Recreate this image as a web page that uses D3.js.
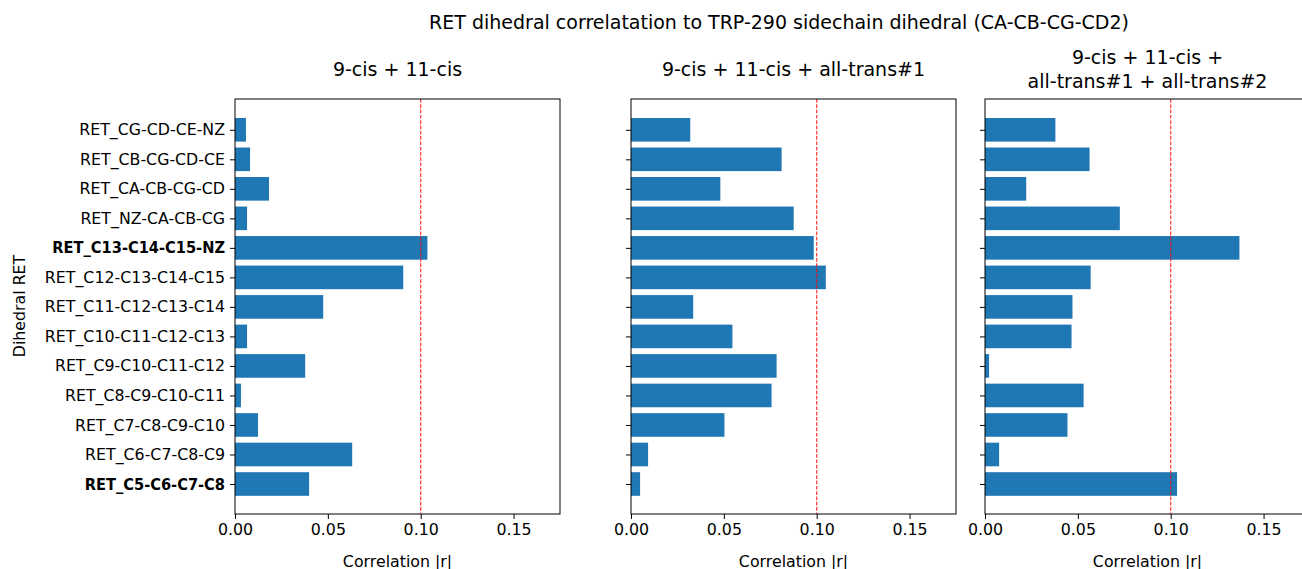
<!DOCTYPE html>
<html><head><meta charset="utf-8">
<script src="https://cdn.jsdelivr.net/npm/d3@7"></script>
<style>body{margin:0;background:#fff}svg{display:block;font-family:"DejaVu Sans",sans-serif}</style>
</head><body><svg id="c" width="1302" height="569"></svg>
<script>
const categories = ["RET_C5-C6-C7-C8","RET_C6-C7-C8-C9","RET_C7-C8-C9-C10","RET_C8-C9-C10-C11","RET_C9-C10-C11-C12","RET_C10-C11-C12-C13","RET_C11-C12-C13-C14","RET_C12-C13-C14-C15","RET_C13-C14-C15-NZ","RET_NZ-CA-CB-CG","RET_CA-CB-CG-CD","RET_CB-CG-CD-CE","RET_CG-CD-CE-NZ"];
const boldLabels = ["RET_C13-C14-C15-NZ","RET_C5-C6-C7-C8"];
const valsA = [0.0399,0.0631,0.0124,0.0032,0.0378,0.0065,0.0475,0.0906,0.1036,0.0065,0.0183,0.0081,0.0059];
const valsB = [0.0049,0.0092,0.0503,0.0757,0.0784,0.0546,0.0335,0.1049,0.0984,0.0876,0.0481,0.0811,0.0319];
const valsC = [0.1034,0.0076,0.0444,0.0531,0.0022,0.0466,0.0471,0.0569,0.1370,0.0726,0.0222,0.0563,0.0379];
const titles = [["9-cis + 11-cis"],["9-cis + 11-cis + all-trans#1"],["9-cis + 11-cis +","all-trans#1 + all-trans#2"]];
const xTicks = [0,0.05,0.10,0.15];
const threshold = 0.1;
const suptitle = "RET dihedral correlatation to TRP-290 sidechain dihedral (CA-CB-CG-CD2)";

const svg = d3.select("#c");
const plotTop = 99, plotBottom = 514, W = 325;
const lefts = [235, 631, 985];
const series = [valsA, valsB, valsC];
const y = d3.scaleLinear().domain([-1.04, 13.04]).range([514.7, 99.1]);
const barH = y(0) - y(0.8);
const tickFont = 15.8, titleFont = 19;

svg.append("text").attr("x", 779).attr("y", 29).attr("text-anchor","middle")
  .attr("font-size", titleFont).text(suptitle);

series.forEach((vals, p) => {
  const L = lefts[p];
  const x = d3.scaleLinear().domain([0, 0.175]).range([L, L + W]);
  const g = svg.append("g");
  g.selectAll("rect.bar").data(vals).join("rect").attr("class","bar")
    .attr("x", x(0)).attr("y", (d,i) => y(i) - barH/2)
    .attr("width", d => x(d) - x(0)).attr("height", barH)
    .attr("fill", "#1f77b4");
  g.append("line").attr("x1", x(threshold)).attr("x2", x(threshold))
    .attr("y1", plotTop).attr("y2", plotBottom)
    .attr("stroke", "red").attr("stroke-width", 1.2).attr("stroke-opacity", 0.8)
    .attr("stroke-dasharray", "3.7,1.6");
  g.append("rect").attr("x", L).attr("y", plotTop).attr("width", W).attr("height", plotBottom - plotTop)
    .attr("fill","none").attr("stroke","#000").attr("stroke-width",1);
  const xa = g.append("g").attr("transform", `translate(0,${plotBottom})`)
    .call(d3.axisBottom(x).tickValues(xTicks).tickFormat(d3.format(".2f")).tickSize(5).tickPadding(5));
  xa.select(".domain").remove();
  xa.selectAll("text").attr("font-size", tickFont).attr("font-family","DejaVu Sans").attr("fill","#000");
  xa.selectAll("line").attr("stroke","#000");
  const ya = g.append("g").attr("transform", `translate(${L},0)`)
    .call(d3.axisLeft(y).tickValues(d3.range(categories.length))
      .tickFormat(p === 0 ? (i => categories[i]) : () => "").tickSize(5).tickPadding(5));
  ya.select(".domain").remove();
  ya.selectAll("line").attr("stroke","#000");
  ya.selectAll("text").attr("font-size", tickFont).attr("font-family","DejaVu Sans").attr("fill","#000")
    .attr("font-weight", i => boldLabels.includes(categories[i]) ? "bold" : "normal");
  if (p === 0) {
    ya.selectAll("text").filter(i => boldLabels.includes(categories[i])).each(function() {
      const w = this.getComputedTextLength();
      d3.select(this).attr("textLength", w * 0.925).attr("lengthAdjust", "spacingAndGlyphs");
    });
  }
  g.append("text").attr("x", L + W/2).attr("y", 566.5).attr("text-anchor","middle")
    .attr("font-size", tickFont).text("Correlation |r|");
  const t = titles[p];
  const baseY = t.length === 1 ? 76 : 64;
  t.forEach((line, k) => {
    g.append("text").attr("x", L + W/2).attr("y", baseY + k*23.5).attr("text-anchor","middle")
      .attr("font-size", titleFont).text(line);
  });
});

svg.append("text").attr("transform","translate(25,306) rotate(-90)").attr("text-anchor","middle")
  .attr("font-size", tickFont).text("Dihedral RET");
</script></body></html>
